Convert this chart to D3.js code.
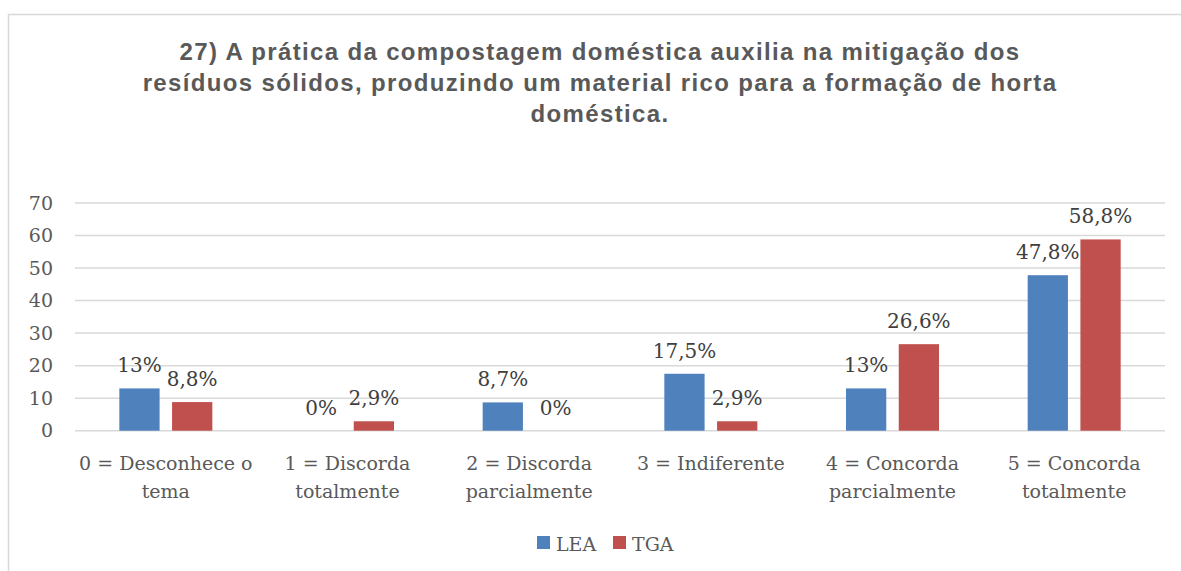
<!DOCTYPE html>
<html>
<head>
    <meta charset="utf-8">
    <title>Compostagem doméstica</title>
    <script src="https://d3js.org/d3.v7.min.js"></script>
    <style>
        body { margin: 0; background: #fff; }
        svg { display: block; }
    </style>
</head>
<body>
<div id="chart"></div>
<script>
    // Data
    var categories = [
        ["0 = Desconhece o", "tema"],
        ["1 = Discorda", "totalmente"],
        ["2 = Discorda", "parcialmente"],
        ["3 = Indiferente"],
        ["4 = Concorda", "parcialmente"],
        ["5 = Concorda", "totalmente"]
    ];
    var seriesNames = ["LEA", "TGA"];
    var leaValues = [13, 0, 8.7, 17.5, 13, 47.8];
    var tgaValues = [8.8, 2.9, 0, 2.9, 26.6, 58.8];
    var yTicks = [0, 10, 20, 30, 40, 50, 60, 70];
    var titleLines = [
        "27) A prática da compostagem doméstica auxilia na mitigação dos",
        "resíduos sólidos, produzindo um material rico para a formação de horta",
        "doméstica."
    ];
    var colors = ["#4f81bd", "#c0504d"];

    var W = 1181, H = 571;
    var margin = {top: 203, left: 75, right: 16, bottom: 140};
    var plotW = 1165 - margin.left, plotH = 430.7 - margin.top;

    var svg = d3.select("#chart").append("svg")
        .attr("width", W).attr("height", H);

    // outer chart border
    svg.append("rect")
        .attr("x", 8.5).attr("y", 14.5)
        .attr("width", W + 10).attr("height", H + 10)
        .attr("fill", "none").attr("stroke", "#d9d9d9").attr("stroke-width", 1.5);

    // title
    svg.append("text")
        .attr("x", 600).attr("y", 59.5)
        .attr("text-anchor", "middle")
        .style("font-family", "'Liberation Sans', Arial, sans-serif")
        .style("font-weight", "bold")
        .style("font-size", "24px")
        .style("letter-spacing", "1.35px")
        .style("fill", "#595959")
        .selectAll("tspan").data(titleLines).enter().append("tspan")
            .attr("x", 600).attr("dy", function(d, i) { return i === 0 ? 0 : 31.3; })
            .text(function(d) { return d; });

    var g = svg.append("g")
        .attr("transform", "translate(" + margin.left + "," + margin.top + ")");

    var x0 = d3.scaleBand().domain(d3.range(categories.length))
        .range([0, plotW]).paddingInner(0).paddingOuter(0);
    var x1 = d3.scaleBand().domain(seriesNames)
        .range([x0.bandwidth() / 2 - 46.5, x0.bandwidth() / 2 + 46.5])
        .paddingInner(11 / 46.5).paddingOuter(0);
    var y = d3.scaleLinear().domain([0, 70]).range([plotH, 0]);

    // gridlines
    g.append("g").selectAll("line").data(yTicks).enter().append("line")
        .attr("x1", 0).attr("x2", plotW)
        .attr("y1", function(d) { return y(d); })
        .attr("y2", function(d) { return y(d); })
        .attr("stroke", "#d9d9d9").attr("stroke-width", 1.5);

    // y axis labels
    var yAxis = g.append("g")
        .call(d3.axisLeft(y).tickValues(yTicks).tickSize(0).tickPadding(22));
    yAxis.select(".domain").remove();
    yAxis.selectAll("text")
        .style("font-family", "'DejaVu Serif', 'Liberation Serif', serif")
        .style("font-size", "19px")
        .style("fill", "#595959");

    var rows = categories.map(function(c, i) {
        return {i: i, vals: [leaValues[i], tgaValues[i]]};
    });

    var groups = g.selectAll(".grp").data(rows).enter().append("g")
        .attr("transform", function(d) { return "translate(" + x0(d.i) + ",0)"; });

    var fmt = function(v) { return String(v).replace(".", ",") + "%"; };

    groups.selectAll("rect").data(function(d) {
        return d.vals.map(function(v, k) { return {name: seriesNames[k], v: v, k: k}; });
    }).enter().append("rect")
        .attr("x", function(d) { return x1(d.name); })
        .attr("width", x1.bandwidth())
        .attr("y", function(d) { return y(d.v); })
        .attr("height", function(d) { return plotH - y(d.v); })
        .attr("fill", function(d) { return colors[d.k]; });

    groups.selectAll(".lbl").data(function(d) {
        return d.vals.map(function(v, k) { return {name: seriesNames[k], v: v, k: k}; });
    }).enter().append("text")
        .attr("x", function(d) { return x1(d.name) + x1.bandwidth() / 2; })
        .attr("y", function(d) { return y(d.v) - 16; })
        .attr("text-anchor", "middle")
        .style("font-family", "'DejaVu Serif', 'Liberation Serif', serif")
        .style("font-size", "20px")
        .style("fill", "#404040")
        .text(function(d) { return fmt(d.v); });

    // category labels
    var xl = g.append("g").attr("transform", "translate(0," + plotH + ")");
    xl.selectAll("text").data(categories).enter().append("text")
        .attr("x", function(d, i) { return x0(i) + x0.bandwidth() / 2; })
        .attr("y", 39)
        .attr("text-anchor", "middle")
        .style("font-family", "'DejaVu Serif', 'Liberation Serif', serif")
        .style("font-size", "19px")
        .style("fill", "#595959")
        .each(function(d) {
            var t = d3.select(this);
            d.forEach(function(line, j) {
                t.append("tspan")
                    .attr("x", t.attr("x"))
                    .attr("dy", j === 0 ? 0 : 28)
                    .text(line);
            });
        });

    // legend
    var legendX = [537, 613];
    var legend = svg.selectAll(".legend").data(seriesNames).enter().append("g")
        .attr("transform", function(d, i) { return "translate(" + legendX[i] + ",536)"; });
    legend.append("rect")
        .attr("width", 13).attr("height", 13)
        .attr("fill", function(d, i) { return colors[i]; });
    legend.append("text")
        .attr("x", 19).attr("y", 15)
        .style("font-family", "'DejaVu Serif', 'Liberation Serif', serif")
        .style("font-size", "19px")
        .style("fill", "#595959")
        .text(function(d) { return d; });
</script>
</body>
</html>
